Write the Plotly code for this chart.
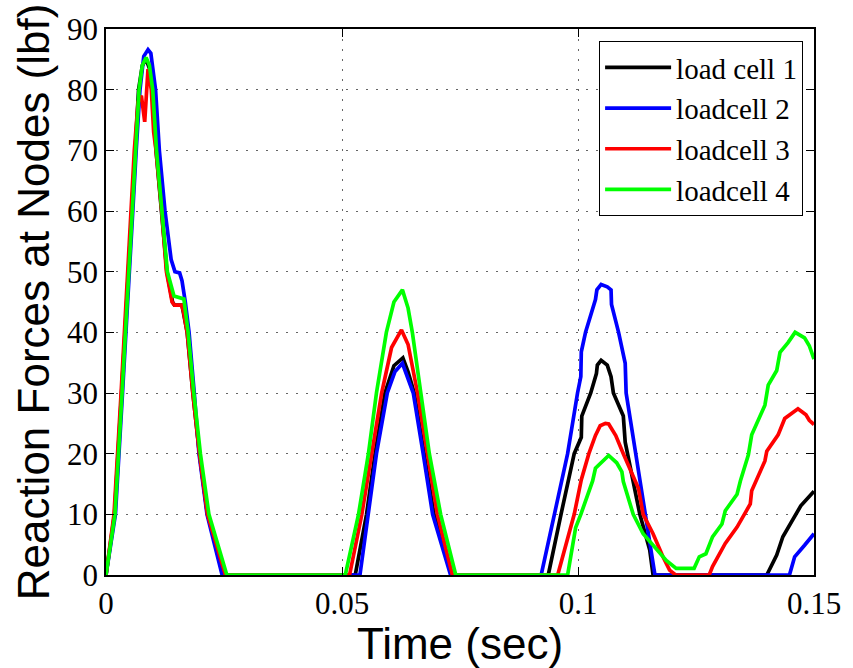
import plotly.graph_objects as go

# ---------------- data ----------------
names = ["load cell 1", "loadcell 2", "loadcell 3", "loadcell 4"]
colors = ["#000000", "#0000ff", "#ff0000", "#00ff00"]

t_cell1 = [0, 0.0018, 0.0033, 0.0047, 0.0052, 0.0061, 0.0069, 0.0077, 0.0085, 0.0092, 0.0099, 0.0106, 0.0118,
           0.0129, 0.0141, 0.0145, 0.0161, 0.0165, 0.0172, 0.0184, 0.0198, 0.0215, 0.0254,
           0.0528, 0.0552, 0.0570, 0.0591, 0.0610, 0.0629, 0.0640, 0.0653, 0.0674, 0.0695, 0.0732,
           0.0937, 0.0964, 0.0992, 0.1007, 0.1008, 0.1027, 0.1039, 0.1041, 0.1049, 0.1062, 0.1070,
           0.1075, 0.1096, 0.1100, 0.1117, 0.1131, 0.1152, 0.1159,
           0.1400, 0.1421, 0.1434, 0.1455, 0.1472, 0.1500]
v_cell1 = [0, 10, 30, 50, 57, 70, 80, 84, 85, 83.5, 79, 70, 60,
           50, 45, 44.5, 44.5, 43, 40, 30, 20, 10, 0,
           0, 10, 20, 30, 34.5, 35.8, 33.5, 30, 20, 10, 0,
           0, 10, 20, 22.7, 26.2, 30, 33.2, 34.6, 35.4, 34.6, 32.7,
           30, 26.2, 21.9, 15.4, 10, 4.1, 0,
           0, 3.3, 6.3, 9, 11.4, 13.8]

t_cell2 = [0, 0.0020, 0.0035, 0.0049, 0.0054, 0.0064, 0.0072, 0.0080, 0.0089, 0.0095, 0.0100, 0.0105, 0.0113,
           0.0125, 0.0138, 0.0146, 0.0156, 0.0161, 0.0168, 0.0176, 0.0187, 0.0197, 0.0214, 0.0246,
           0.0538, 0.0556, 0.0573, 0.0596, 0.0612, 0.0628, 0.0640, 0.0651, 0.0672, 0.0692, 0.0730,
           0.0922, 0.0950, 0.0978, 0.0999, 0.1006, 0.1007, 0.1016, 0.1037, 0.1040, 0.1049, 0.1062,
           0.1070, 0.1071, 0.1086, 0.1100, 0.1102, 0.1128, 0.1142, 0.1156, 0.1163,
           0.1448, 0.1459, 0.1480, 0.1500]
v_cell2 = [0, 10, 30, 50, 57, 70, 80, 85.5, 86.6, 86, 83, 80, 70,
           60, 52, 50, 49.8, 48.5, 45, 40, 30, 20, 10, 0,
           0, 10, 20, 30, 33.5, 34.9, 32.5, 30, 20, 10, 0,
           0, 10, 20, 30, 32.7, 36.8, 40, 45.4, 47, 47.9, 47.5,
           47.0, 44.6, 40, 34.9, 30, 17.6, 10, 3.5, 0,
           0, 3, 4.9, 6.8]

t_cell3 = [0, 0.0017, 0.0032, 0.0046, 0.0051, 0.0060, 0.0068, 0.0075, 0.0082, 0.0086, 0.0089, 0.0096, 0.0101,
           0.0106, 0.0118, 0.0128, 0.0140, 0.0145, 0.0160, 0.0164, 0.0172, 0.0184, 0.0198, 0.0215, 0.0253,
           0.0516, 0.0542, 0.0563, 0.0584, 0.0605, 0.0626, 0.0640, 0.0660, 0.0681, 0.0702, 0.0734,
           0.0957, 0.0992, 0.1007, 0.1023, 0.1037, 0.1047, 0.1058, 0.1065, 0.1080, 0.1096, 0.1128,
           0.1138, 0.1159, 0.1180, 0.1194, 0.1207,
           0.1278, 0.1285, 0.1305, 0.1312, 0.1337, 0.1365, 0.1368, 0.1396, 0.1400, 0.1424, 0.1438,
           0.1452, 0.1466, 0.1483, 0.1490, 0.1500]
v_cell3 = [0, 10, 30, 50, 57, 70, 78, 79, 74.7, 80, 83.4, 80, 73,
           70, 60, 50, 45, 44.5, 44.5, 43.5, 40, 30, 20, 10, 0,
           0, 10, 20, 30, 37.5, 40.4, 38, 30, 20, 10, 0,
           0, 10, 15.7, 20, 23, 24.6, 25, 24.9, 23, 20, 14.3,
           10, 6.8, 3, 0.8, 0,
           0, 1.4, 4, 5.2, 7.9, 11.7, 13.9, 18.8, 20.4, 23.1, 25.8,
           26.6, 27.4, 26.4, 25.5, 24.8]

t_cell4 = [0, 0.0019, 0.0034, 0.0048, 0.0053, 0.0062, 0.0070, 0.0077, 0.0085, 0.0092, 0.0099, 0.0107, 0.0119,
           0.0130, 0.0144, 0.0165, 0.0174, 0.0186, 0.0200, 0.0218, 0.0256,
           0.0507, 0.0535, 0.0556, 0.0573, 0.0594, 0.0610, 0.0628, 0.0640, 0.0649, 0.0667, 0.0685,
           0.0709, 0.0741,
           0.0978, 0.0995, 0.1006, 0.1031, 0.1037, 0.1051, 0.1065, 0.1082, 0.1093, 0.1096, 0.1117,
           0.1138, 0.1163, 0.1187, 0.1208, 0.1246,
           0.1257, 0.1271, 0.1285, 0.1305, 0.1312, 0.1337, 0.1344, 0.1361, 0.1368, 0.1396, 0.1403,
           0.1421, 0.1428, 0.1445, 0.1460, 0.1480, 0.1490, 0.1500]
v_cell4 = [0, 10, 30, 50, 57, 70, 80, 84, 85.3, 84, 80, 70, 60,
           50, 46, 45.5, 40, 30, 20, 10, 0,
           0, 10, 20, 30, 40, 45, 47.0, 44, 40, 30, 20,
           10, 0,
           0, 7.8, 10, 15.5, 17.6, 18.7, 19.7, 18.5, 17, 15.4, 10,
           6.8, 4.6, 2.4, 1.1, 1.1,
           3, 3.5, 6.3, 8.4, 10.6, 13.3, 15.5, 19.8, 23.1, 28, 31.3,
           33.7, 36.7, 38.3, 40, 39.1, 37.8, 35.6]

x_ticks = [0, 0.05, 0.1, 0.15]
x_tick_labels = ["0", "0.05", "0.1", "0.15"]
y_ticks = [0, 10, 20, 30, 40, 50, 60, 70, 80, 90]

series_t = [t_cell1, t_cell2, t_cell3, t_cell4]
series_v = [v_cell1, v_cell2, v_cell3, v_cell4]

# ---------------- figure ----------------
fig = go.Figure()
for name, col, tt, vv in zip(names, colors, series_t, series_v):
    fig.add_trace(go.Scatter(x=tt, y=vv, mode="lines", name=name,
                             line=dict(color=col, width=3.7)))

axis_common = dict(
    showline=True, linecolor="black", linewidth=1.5, mirror="ticks",
    ticks="inside", ticklen=8, tickcolor="black", tickwidth=1,
    showgrid=True, gridcolor="#666666", gridwidth=1, griddash="2px,8px",
    zeroline=False,
    tickfont=dict(family="Liberation Serif", size=31, color="black"),
)

fig.update_xaxes(range=[0, 0.15], tickvals=x_ticks, ticktext=x_tick_labels,
                 title=dict(text="Time (sec)", standoff=4,
                            font=dict(family="Liberation Sans", size=44, color="black")),
                 **axis_common)
fig.update_yaxes(range=[0, 90], tickvals=y_ticks,
                 title=dict(text="Reaction Forces at Nodes (lbf)", standoff=4,
                            font=dict(family="Liberation Sans", size=44, color="black")),
                 **axis_common)

fig.update_layout(
    width=853, height=668,
    margin=dict(l=106, r=31, t=25, b=88),
    paper_bgcolor="white", plot_bgcolor="white",
    showlegend=True,
    legend=dict(x=0.9846, y=0.978, xanchor="right", yanchor="top",
                bgcolor="white", bordercolor="black", borderwidth=1,
                font=dict(family="Liberation Serif", size=29, color="black"),
                itemwidth=66, tracegroupgap=0),
)

fig.write_html("out.html")
